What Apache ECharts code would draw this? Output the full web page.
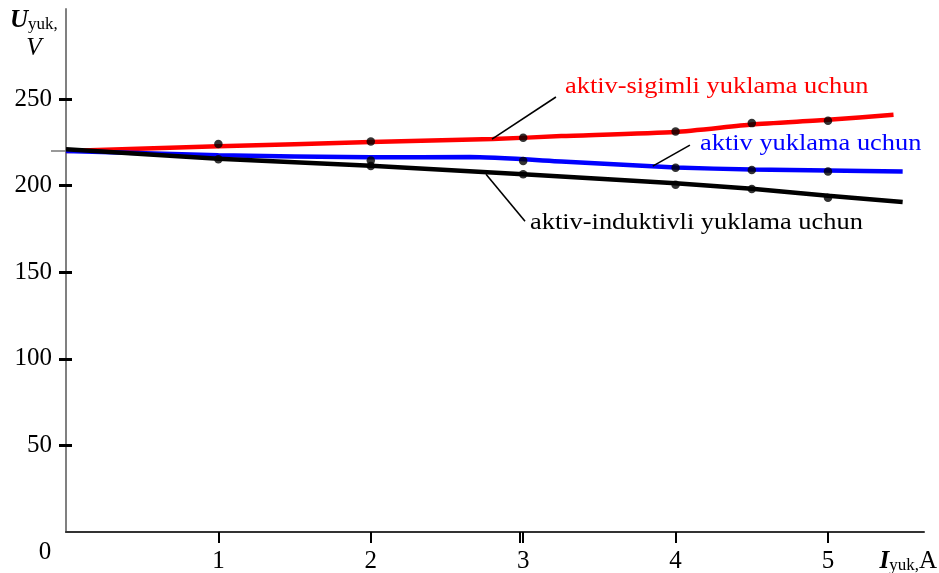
<!DOCTYPE html>
<html>
<head>
<meta charset="utf-8">
<script src="https://cdn.jsdelivr.net/npm/echarts@6/dist/echarts.min.js"></script>
<style>
html, body { margin: 0; padding: 0; background: #fff; }
#chart { width: 939px; height: 573px; }
</style>
</head>
<body>
<div id="chart"></div>
<script>
var FONT = "'Liberation Serif', 'Times New Roman', serif";

// tick values
var xTicks = [1, 2, 3, 4, 5];
var xTickMarks = [1, 2, 2.98, 3, 4, 5];
var yTicks = [50, 100, 150, 200, 250];

// measured points (I, A ; U, V)
var sigimliDots = [[1, 224], [2, 225.5], [3, 227.6], [4, 231.3], [4.5, 236.1], [5, 237.5]];
var aktivDots = [[2, 214.5], [3, 214.3], [4, 210.3], [4.5, 209.1], [5, 208.1]];
var induktivDots = [[1, 215.3], [2, 211.4], [3, 206.6], [4, 200.5], [4.5, 198], [5, 193]];

// drawn curves
var sigimliLine = [[0, 220], [1, 222.7], [2, 225.2], [2.8, 226.9], [3.25, 228.6], [4, 231], [4.5, 235.3], [5, 238], [5.43, 241]];
var aktivLine = [[0, 220], [1, 217.6], [2, 216.4], [2.65, 216.5], [3.25, 214], [4, 210.5], [4.5, 209.3], [5, 208.7], [5.49, 208.2]];
var induktivLine = [[0, 221], [1, 215.5], [2, 211.5], [3, 206.6], [4, 201.4], [4.5, 198.2], [5, 194.2], [5.49, 190.6]];

// leader lines for the captions
var sigimliLeader = [[2.795, 226.9], [3.215, 251.2]];
var aktivLeader = [[3.85, 211.3], [4.094, 223.4]];
var induktivLeader = [[2.756, 206.6], [3.012, 179.5]];

function leader(pts) {
	return {
		silent: true,
		symbol: ['none', 'none'],
		label: { show: false },
		emphasis: { disabled: true },
		lineStyle: { color: '#000', width: 1.6, type: 'solid' },
		data: [[{ coord: pts[0] }, { coord: pts[1] }]]
	};
}

function curve(name, data, color, pts) {
	return {
		name: name,
		type: 'line',
		data: data,
		smooth: 0.2,
		showSymbol: false,
		symbol: 'none',
		lineStyle: { color: color, width: 4.5 },
		emphasis: { disabled: true },
		markLine: leader(pts),
		z: 2
	};
}

function dots(data) {
	return {
		type: 'scatter',
		data: data,
		symbolSize: 8.5,
		itemStyle: { color: '#000' },
		emphasis: { disabled: true },
		z: 5
	};
}

var chart = echarts.init(document.getElementById('chart'));

var option = {
	animation: false,
	backgroundColor: '#fff',
	grid: { left: 66, right: 15, top: 9, bottom: 41, outerBoundsMode: 'none' },
	xAxis: {
		type: 'value',
		min: 0,
		max: 5.63,
		splitLine: { show: false },
		axisLine: { lineStyle: { color: '#333', width: 2 } },
		axisTick: { customValues: xTickMarks, length: 11, lineStyle: { color: '#000', width: 2 } },
		axisLabel: { customValues: xTicks, margin: 17, color: '#000', fontFamily: FONT, fontSize: 25 }
	},
	yAxis: [{
		type: 'value',
		position: 'left',
		min: 0,
		max: 302,
		splitLine: { show: false },
		axisLine: { lineStyle: { color: '#808080', width: 2 } },
		axisTick: { customValues: yTicks, length: 7, lineStyle: { color: '#000', width: 3 } },
		axisLabel: { customValues: yTicks, margin: 14, color: '#000', fontFamily: FONT, fontSize: 25 }
	}, {
		// ticks that cross into the plot
		type: 'value',
		position: 'left',
		min: 0,
		max: 302,
		splitLine: { show: false },
		axisLine: { show: false },
		axisTick: { inside: true, customValues: yTicks, length: 6, lineStyle: { color: '#000', width: 3 } },
		axisLabel: { show: false }
	}, {
		// small start mark at 220 V
		type: 'value',
		position: 'left',
		min: 0,
		max: 302,
		splitLine: { show: false },
		axisLine: { show: false },
		axisTick: { customValues: [220], length: 15, lineStyle: { color: '#777', width: 1.5 } },
		axisLabel: { show: false }
	}],
	series: [
		curve('aktiv-sigimli', sigimliLine, '#ff0000', sigimliLeader),
		curve('aktiv', aktivLine, '#0000ff', aktivLeader),
		curve('aktiv-induktivli', induktivLine, '#000000', induktivLeader),
		dots(sigimliDots),
		dots(aktivDots),
		dots(induktivDots)
	],
	graphic: [
		{ type: 'text', x: 565, y: 86.3, scaleX: 1.1, style: { text: 'aktiv-sigimli yuklama uchun', fill: '#ff0000', font: '24px ' + FONT, verticalAlign: 'middle' } },
		{ type: 'text', x: 700, y: 143.3, scaleX: 1.1, style: { text: 'aktiv yuklama uchun', fill: '#0000ff', font: '24px ' + FONT, verticalAlign: 'middle' } },
		{ type: 'text', x: 530, y: 222.3, scaleX: 1.1, style: { text: 'aktiv-induktivli yuklama uchun', fill: '#000', font: '24px ' + FONT, verticalAlign: 'middle' } },
		{ type: 'text', x: 45, y: 552, style: { text: '0', fill: '#000', font: '25px ' + FONT, align: 'center', verticalAlign: 'middle' } },
		{
			type: 'text', x: 10, y: 33,
			style: {
				text: '{b|U}{s|yuk,}',
				verticalAlign: 'bottom',
				rich: {
					b: { fontFamily: FONT, fontSize: 25, fontWeight: 'bold', fontStyle: 'italic', fill: '#000', verticalAlign: 'bottom' },
					s: { fontFamily: FONT, fontSize: 17, fill: '#000', verticalAlign: 'bottom' }
				}
			}
		},
		{ type: 'text', x: 34, y: 48, style: { text: 'V', fill: '#000', font: 'italic 25px ' + FONT, align: 'center', verticalAlign: 'middle' } },
		{
			type: 'text', x: 937, y: 574,
			style: {
				text: '{b|I}{s|yuk,}{n|A}',
				align: 'right',
				verticalAlign: 'bottom',
				rich: {
					b: { fontFamily: FONT, fontSize: 25, fontWeight: 'bold', fontStyle: 'italic', fill: '#000', verticalAlign: 'bottom' },
					s: { fontFamily: FONT, fontSize: 17, fill: '#000', verticalAlign: 'bottom' },
					n: { fontFamily: FONT, fontSize: 25, fill: '#000', verticalAlign: 'bottom' }
				}
			}
		}
	]
};

chart.setOption(option);
window.addEventListener('resize', function () {
	chart.resize();
});
</script>
</body>
</html>
